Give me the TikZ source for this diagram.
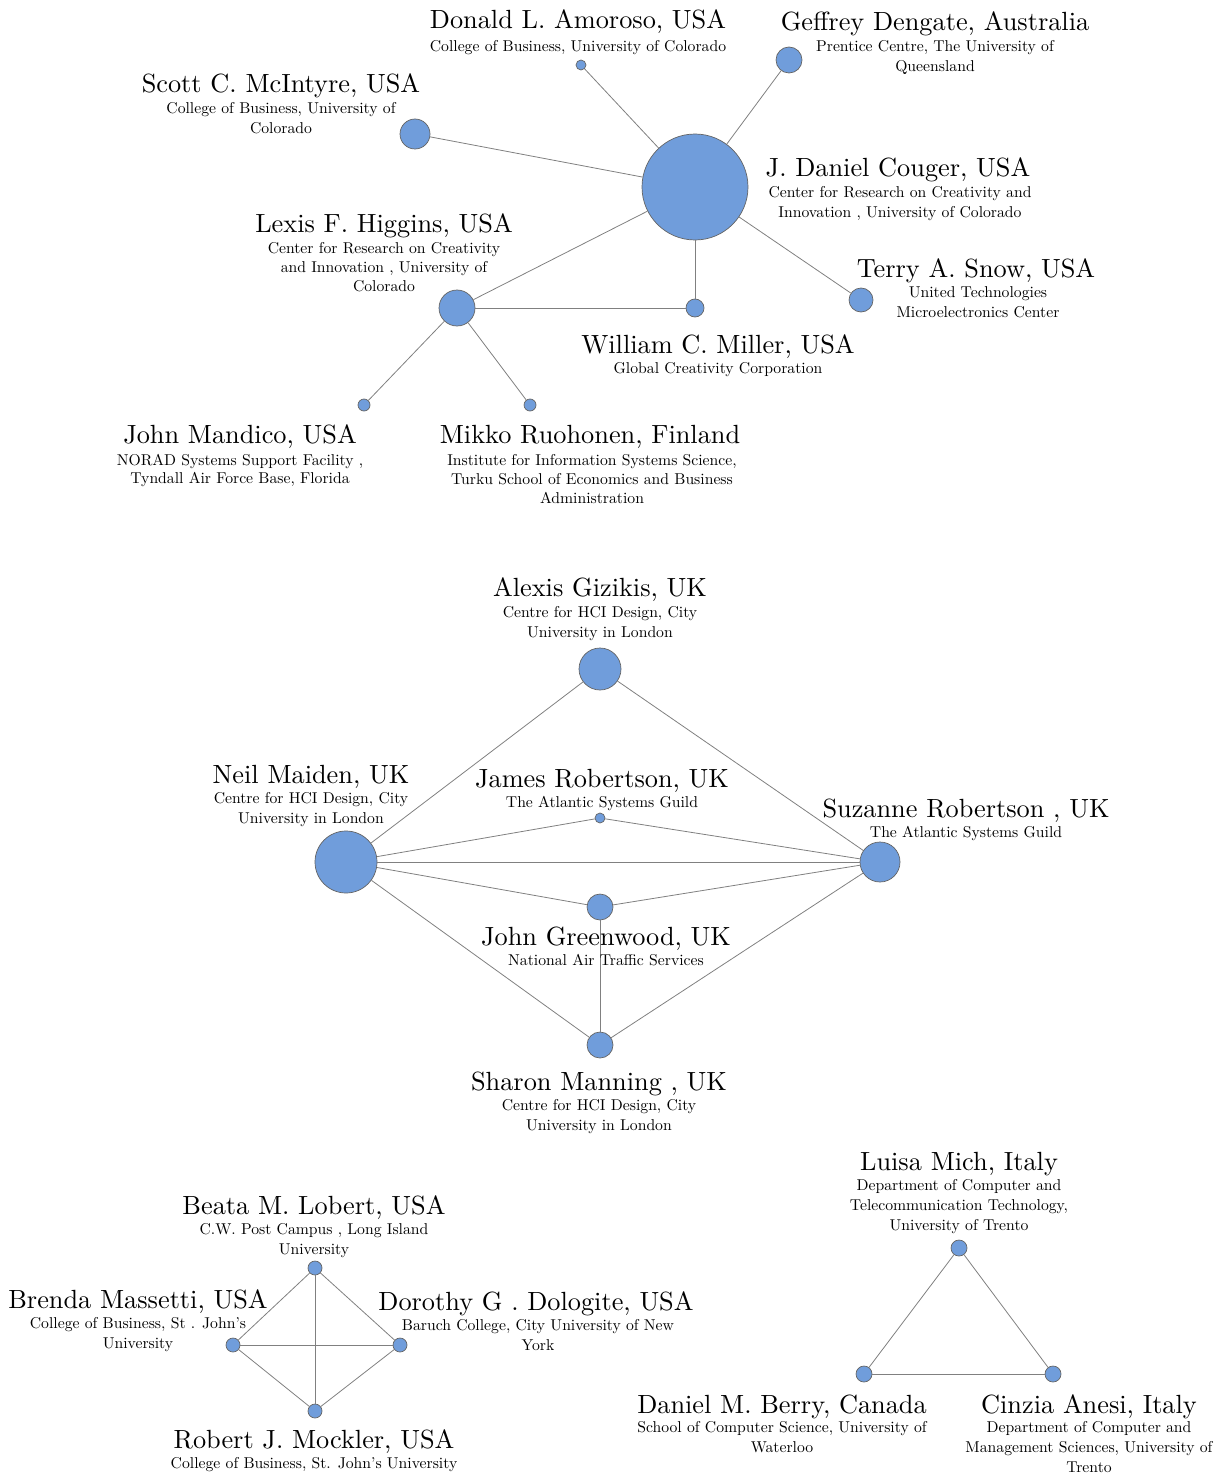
\documentclass[tikz,border=0pt]{standalone}
\usepackage{fontspec}
\setmainfont{lmroman10-regular}[Extension=.otf]
\begin{document}
\definecolor{nodefill}{RGB}{112,157,219}
\definecolor{nodeline}{RGB}{100,100,100}
\definecolor{edgecol}{RGB}{128,128,128}
\begin{tikzpicture}[x=1pt,y=-1pt,
  pt/.style={circle,draw=nodeline,line width=0.7pt,fill=nodefill,inner sep=0pt},
  edge/.style={draw=edgecol,line width=0.8pt},
  nm/.style={font=\fontsize{26.3}{28}\selectfont,anchor=base,inner sep=0pt},
  sb/.style={font=\fontsize{15.7}{20}\selectfont,align=center,anchor=north,inner sep=0pt}]
\useasboundingbox (0,0) rectangle (1228,1474);
% ---------- Graph 1 ----------
\node[pt,minimum size=106] (cou) at (695,187) {};
\node[pt,minimum size=10] (amo) at (581,65) {};
\node[pt,minimum size=26] (den) at (789,60) {};
\node[pt,minimum size=30] (mci) at (415,134) {};
\node[pt,minimum size=36] (hig) at (457,308) {};
\node[pt,minimum size=18] (mil) at (695,308) {};
\node[pt,minimum size=24] (sno) at (861,300) {};
\node[pt,minimum size=12] (man) at (364,405) {};
\node[pt,minimum size=12] (ruo) at (530,405) {};
\foreach \a/\b in {cou/amo,cou/den,cou/mci,cou/hig,cou/mil,cou/sno,hig/mil,hig/man,hig/ruo}
  \draw[edge] (\a) -- (\b);
\node[nm] (namo) at (578,29) {Donald L. Amoroso, USA};
\node[sb] (samo) at (578,40) {College of Business, University of Colorado};
\node[nm] (nden) at (935,31) {Geffrey Dengate, Australia};
\node[sb] (sden) at (935,40) {Prentice Centre, The University of\\Queensland};
\node[nm] (nmci) at (281,93) {Scott C. McIntyre, USA};
\node[sb] (smci) at (281,102) {College of Business, University of\\Colorado};
\node[nm] (ncou) at (898,177) {J. Daniel Couger, USA};
\node[sb] (scou) at (900,186) {Center for Research on Creativity and\\Innovation , University of Colorado};
\node[nm] (nhig) at (384,233) {Lexis F. Higgins, USA};
\node[sb,font=\fontsize{15.7}{19}\selectfont] (shig) at (384,242) {Center for Research on Creativity\\and Innovation , University of\\Colorado};
\node[nm] (nsno) at (976,277) {Terry A. Snow, USA};
\node[sb] (ssno) at (978,286) {United Technologies\\Microelectronics Center};
\node[nm] (nmil) at (718,353) {William C. Miller, USA};
\node[sb] (smil) at (718,362) {Global Creativity Corporation};
\node[nm] (nman) at (240,443) {John Mandico, USA};
\node[sb,font=\fontsize{15.7}{18.5}\selectfont] (sman) at (240,454) {NORAD Systems Support Facility ,\\Tyndall Air Force Base, Florida};
\node[nm] (nruo) at (590,443) {Mikko Ruohonen, Finland};
\node[sb,font=\fontsize{15.7}{19}\selectfont] (sruo) at (592,454) {Institute for Information Systems Science,\\Turku School of Economics and Business\\Administration};
% ---------- Graph 2 ----------
\node[pt,minimum size=42] (giz) at (600,669) {};
\node[pt,minimum size=62] (mai) at (346,862) {};
\node[pt,minimum size=10] (jam) at (600,818) {};
\node[pt,minimum size=40] (suz) at (880,862) {};
\node[pt,minimum size=26] (gre) at (600,907) {};
\node[pt,minimum size=26] (mann) at (600,1045) {};
\foreach \a/\b in {giz/mai,giz/suz,mai/jam,mai/suz,mai/gre,mai/mann,jam/suz,gre/suz,gre/mann,suz/mann}
  \draw[edge] (\a) -- (\b);
\node[nm] (ngiz) at (600,596) {Alexis Gizikis, UK};
\node[sb] (sgiz) at (600,606) {Centre for HCI Design, City\\University in London};
\node[nm] (nmai) at (311,783) {Neil Maiden, UK};
\node[sb] (smai) at (311,792) {Centre for HCI Design, City\\University in London};
\node[nm] (njam) at (602,787) {James Robertson, UK};
\node[sb] (sjam) at (602,796) {The Atlantic Systems Guild};
\node[nm] (nsuz) at (966,817) {Suzanne Robertson , UK};
\node[sb] (ssuz) at (966,826) {The Atlantic Systems Guild};
\node[nm] (ngre) at (606,945) {John Greenwood, UK};
\node[sb] (sgre) at (606,954) {National Air Traffic Services};
\node[nm] (nmann) at (599,1090) {Sharon Manning , UK};
\node[sb] (smann) at (599,1099) {Centre for HCI Design, City\\University in London};
% ---------- Graph 3 ----------
\node[pt,minimum size=14] (lob) at (315,1268) {};
\node[pt,minimum size=14] (mas) at (233,1345) {};
\node[pt,minimum size=14] (dol) at (400,1345) {};
\node[pt,minimum size=14] (moc) at (315,1411) {};
\foreach \a/\b in {lob/mas,lob/dol,lob/moc,mas/dol,mas/moc,dol/moc}
  \draw[edge] (\a) -- (\b);
\node[nm] (nlob) at (314,1214) {Beata M. Lobert, USA};
\node[sb] (slob) at (314,1223) {C.W. Post Campus , Long Island\\University};
\node[nm] (nmas) at (138,1308) {Brenda Massetti, USA};
\node[sb] (smas) at (138,1317) {College of Business, St . John's\\University};
\node[nm] (ndol) at (536,1310) {Dorothy G . Dologite, USA};
\node[sb] (sdol) at (538,1319) {Baruch College, City University of New\\York};
\node[nm] (nmoc) at (314,1448) {Robert J. Mockler, USA};
\node[sb] (smoc) at (314,1457) {College of Business, St. John's University};
% ---------- Graph 4 ----------
\node[pt,minimum size=16] (mic) at (959,1248) {};
\node[pt,minimum size=16] (ber) at (864,1374) {};
\node[pt,minimum size=16] (ane) at (1053,1374) {};
\foreach \a/\b in {mic/ber,mic/ane,ber/ane}
  \draw[edge] (\a) -- (\b);
\node[nm] (nmic) at (959,1170) {Luisa Mich, Italy};
\node[sb] (smic) at (959,1179) {Department of Computer and\\Telecommunication Technology,\\University of Trento};
\node[nm] (nber) at (782,1413) {Daniel M. Berry, Canada};
\node[sb] (sber) at (782,1421) {School of Computer Science, University of\\Waterloo};
\node[nm] (nane) at (1089,1413) {Cinzia Anesi, Italy};
\node[sb] (sane) at (1089,1421) {Department of Computer and\\Management Sciences, University of\\Trento};
\end{tikzpicture}
\end{document}
